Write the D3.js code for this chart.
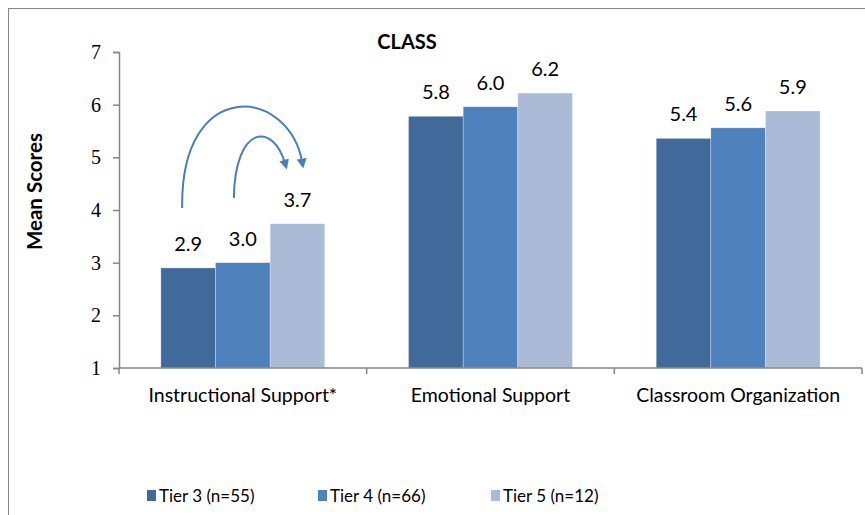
<!DOCTYPE html>
<html lang="en">
<head>
  <meta charset="UTF-8">
  <title>CLASS</title>
  <style>
    body { margin: 0; background: #fff; }
    svg { display: block; }
    .lbl { font-family: Lato, 'Liberation Sans', sans-serif; fill: #000; }
  </style>
</head>
<body>
<div class="chart"></div>
<script src="https://d3js.org/d3.v7.min.js"></script>
<script>
  // data
  let categories = ['Instructional Support*', 'Emotional Support', 'Classroom Organization']
  let tiers = ['Tier 3 (n=55)', 'Tier 4 (n=66)', 'Tier 5 (n=12)']
  let tier3 = [2.9, 5.78, 5.36]
  let tier4 = [3.0, 5.96, 5.56]
  let tier5 = [3.74, 6.22, 5.88]
  let yTicks = [1, 2, 3, 4, 5, 6, 7]
  let colors = ['#416a9b', '#4f81bd', '#aabad7']

  let width = 865
  let height = 515
  let plotL = 119, plotR = 862, plotT = 52, plotB = 368

  let svg = d3.select('.chart').append('svg').attr('width', width).attr('height', height)

  // outer frame (right/bottom edges fall outside the picture)
  svg.append('rect')
    .attr('x', 8.5).attr('y', 8.5)
    .attr('width', width + 20).attr('height', height + 20)
    .attr('fill', 'none').attr('stroke', '#868686')

  let xScale = d3.scaleBand().domain(categories).range([plotL, plotR]).padding(0)
  let bw = xScale.bandwidth()
  let gap = bw * 0.169
  let x1 = d3.scaleBand().domain(d3.range(tiers.length)).range([gap, bw - gap]).padding(0)
  let yScale = d3.scaleLinear().domain([1, 7]).range([plotB, plotT])

  let series = [tier3, tier4, tier5]

  // bars
  let groups = svg.selectAll('.grp').data(categories).enter().append('g')
    .attr('class', 'grp')
    .attr('transform', (d) => 'translate(' + xScale(d) + ',0)')

  groups.selectAll('rect')
    .data((d, ci) => series.map((s, si) => ({ si: si, v: s[ci] })))
    .enter().append('rect')
    .attr('x', (d) => x1(d.si))
    .attr('y', (d) => yScale(d.v))
    .attr('width', x1.bandwidth())
    .attr('height', (d) => plotB - yScale(d.v))
    .attr('fill', (d) => colors[d.si])
    .attr('stroke', '#fff').attr('stroke-width', 0.6).attr('stroke-opacity', 0.5)

  groups.selectAll('.val')
    .data((d, ci) => series.map((s, si) => ({ si: si, v: s[ci] })))
    .enter().append('text')
    .attr('class', 'lbl val')
    .attr('x', (d) => x1(d.si) + x1.bandwidth() / 2)
    .attr('y', (d) => yScale(d.v) - 17)
    .attr('text-anchor', 'middle')
    .style('font-size', '20px')
    .text((d) => d.v.toFixed(1))

  // y axis
  let yAxis = d3.axisLeft(yScale).tickValues(yTicks).tickSize(6).tickPadding(12).tickFormat(d3.format('d'))
  let gY = svg.append('g').attr('transform', 'translate(' + plotL + ',0)').call(yAxis)
  gY.select('.domain').attr('stroke', '#868686').attr('stroke-width', 1.5)
  gY.selectAll('.tick line').attr('stroke', '#868686').attr('stroke-width', 1.5)
  gY.selectAll('.tick text')
    .style('font-family', "'Liberation Serif', 'DejaVu Serif', serif")
    .style('font-size', '20px').attr('fill', '#000')

  // x axis: ticks at category boundaries
  let gX = svg.append('g')
  gX.append('line')
    .attr('x1', plotL).attr('x2', plotR).attr('y1', plotB).attr('y2', plotB)
    .attr('stroke', '#868686').attr('stroke-width', 1.5)
  gX.selectAll('.bt').data(categories.map((c) => xScale(c)).concat([plotR])).enter()
    .append('line')
    .attr('x1', (d) => d).attr('x2', (d) => d)
    .attr('y1', plotB).attr('y2', plotB + 6)
    .attr('stroke', '#868686').attr('stroke-width', 1.5)
  gX.selectAll('.cat').data(categories).enter().append('text')
    .attr('class', 'lbl')
    .attr('x', (d) => xScale(d) + bw / 2)
    .attr('y', plotB + 34)
    .attr('text-anchor', 'middle')
    .style('font-size', '19.5px')
    .text((d) => d)

  // title
  svg.append('text').attr('class', 'lbl')
    .attr('x', 407).attr('y', 49)
    .attr('text-anchor', 'middle')
    .style('font-size', '20px').style('font-weight', 'bold')
    .text('CLASS')

  svg.append('text').attr('class', 'lbl')
    .attr('transform', 'translate(42,' + yScale(4.35) + ') rotate(-90)')
    .attr('text-anchor', 'middle')
    .style('font-size', '20.5px').style('font-weight', 'bold')
    .text('Mean Scores')

  // curved arrows (tier 3 -> tier 5, tier 4 -> tier 5)
  let defs = svg.append('defs')
  defs.append('marker')
    .attr('id', 'head').attr('viewBox', '0 0 10 10')
    .attr('refX', 5).attr('refY', 5)
    .attr('markerWidth', 5).attr('markerHeight', 5)
    .attr('orient', 'auto')
    .append('path').attr('d', 'M0,0 L10,5 L0,10 z').attr('fill', '#4a7ebb')

  let g0 = xScale(categories[0])
  let cx = (i) => g0 + x1(i) + x1.bandwidth() / 2
  let arrows = [
    { x0: cx(0) - 6, y0: 4.04, c1x: cx(0) - 8, c1y: 6.55, c2x: cx(2) - 8, c2y: 6.35, x3: cx(2) + 5, y3: 4.88 },
    { x0: cx(1) - 9, y0: 4.23, c1x: cx(1) - 8, c1y: 5.6, c2x: cx(1) + 30, c2y: 5.7, x3: cx(2) - 12, y3: 4.86 }
  ]
  svg.selectAll('.arr').data(arrows).enter().append('path')
    .attr('d', (a) => 'M' + a.x0 + ',' + yScale(a.y0) +
      ' C' + a.c1x + ',' + yScale(a.c1y) + ' ' + a.c2x + ',' + yScale(a.c2y) + ' ' + a.x3 + ',' + yScale(a.y3))
    .attr('fill', 'none').attr('stroke', '#4a7ebb').attr('stroke-width', 2)
    .attr('marker-end', 'url(#head)')

  // legend
  let legX = [147, 318, 491]
  let leg = svg.selectAll('.leg').data(tiers).enter().append('g')
    .attr('transform', (d, i) => 'translate(' + legX[i] + ',490)')
  leg.append('rect').attr('width', 9).attr('height', 11).attr('fill', (d, i) => colors[i])
  leg.append('text').attr('class', 'lbl')
    .attr('x', 12).attr('y', 11.5)
    .style('font-size', '17px')
    .text((d) => d)
</script>
</body>
</html>
